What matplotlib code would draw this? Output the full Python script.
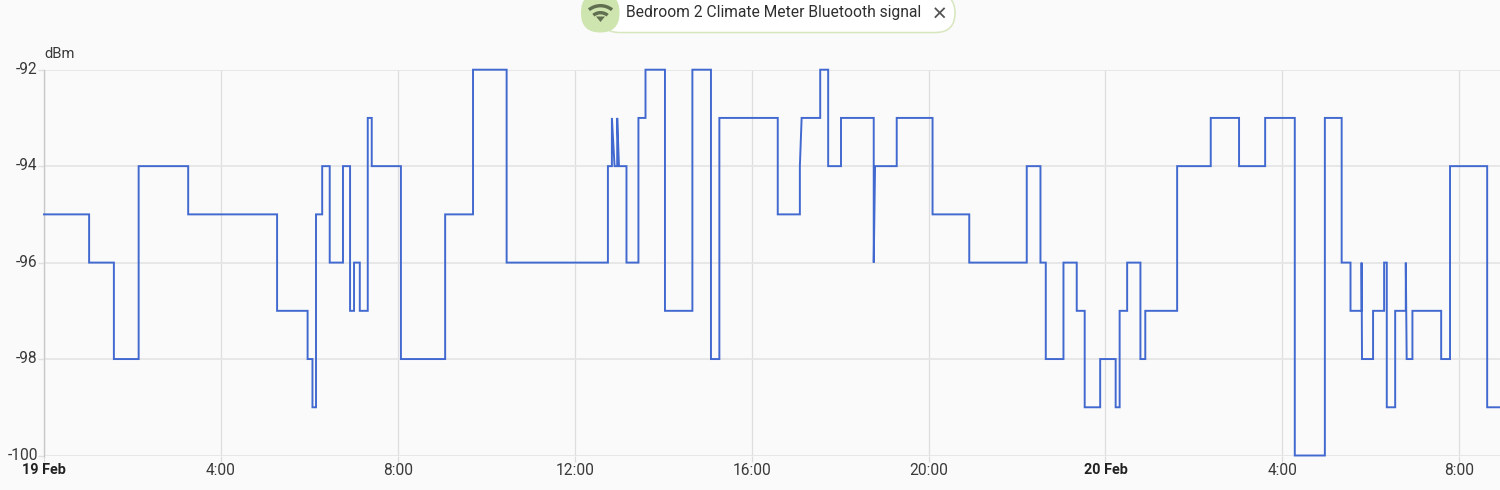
import matplotlib
matplotlib.use("Agg")
import matplotlib.pyplot as plt
from matplotlib.patches import FancyBboxPatch, Wedge, Polygon
from matplotlib.transforms import ScaledTranslation

plt.rcParams['font.family'] = ['Roboto', 'DejaVu Sans']

series_name = "Bedroom 2 Climate Meter Bluetooth signal"
unit = "dBm"
# hours since 19 Feb 00:00 at which the signal changes, and the new value
hours = [0, 1.02, 1.58, 2.14, 3.26, 5.27, 5.96, 6.07, 6.15, 6.29, 6.46, 6.76, 6.92, 7.01,
         7.14, 7.32, 7.41, 8.07, 9.07, 9.70, 10.46, 12.75, 12.84, 12.90, 12.96, 13.00,
         13.17, 13.44, 13.60, 14.04, 14.66, 15.08, 15.27, 16.59, 17.09, 17.13, 17.55,
         17.73, 18.02, 18.76, 18.79, 19.28, 20.09, 20.92, 22.22, 22.53, 22.65, 23.05,
         23.35, 23.53, 23.88, 24.23, 24.32, 24.49, 24.79, 24.90, 25.62, 26.38, 27.02,
         27.61, 28.28, 28.96, 29.34, 29.54, 29.79, 29.80, 30.05, 30.30, 30.36, 30.55,
         30.79, 30.81, 30.94, 31.59, 31.79, 32.63, 32.92]
signal = [-95, -96, -98, -94, -95, -97, -98, -99, -95, -94, -96, -94, -97, -96,
          -97, -93, -94, -98, -95, -92, -96, -94, -93, -94, -93, -94,
          -96, -93, -92, -97, -92, -98, -93, -95, -94, -93, -92,
          -94, -93, -96, -94, -93, -95, -96, -94, -96, -98, -96,
          -97, -99, -98, -99, -97, -96, -98, -97, -94, -93, -94,
          -93, -100, -93, -96, -97, -96, -98, -97, -96, -99, -97,
          -96, -98, -97, -98, -94, -99, -99]
# changes that the trace reaches on a slant instead of a square corner
slanted_changes = [12.90, 13.00, 17.13, 18.79, 29.80, 30.81]
y_ticks = [-92, -94, -96, -98, -100]
x_tick_hours = [0, 4, 8, 12, 16, 20, 24, 28, 32]
x_tick_labels = ["19 Feb", "4:00", "8:00", "12:00", "16:00", "20:00", "20 Feb", "4:00", "8:00"]
bold_labels = ["19 Feb", "20 Feb"]

W, H = 1500, 490
bg = "#fafafa"
fig = plt.figure(figsize=(W / 100, H / 100), dpi=100, facecolor=bg)
ax = fig.add_axes([44 / W, 1 - 455.5 / H, (W - 44) / W, (455.5 - 69.7) / H], facecolor=bg)
ax.set_xlim(0, 32.92)
ax.set_ylim(-100, -92)

for s in ax.spines.values():
    s.set_visible(False)
ax.set_yticks(y_ticks)
ax.set_yticklabels([str(v) for v in y_ticks])
ax.set_xticks(x_tick_hours)
ax.set_xticklabels(x_tick_labels)
ax.grid(axis='y', color="#e6e6e6", lw=1.3)
ax.grid(axis='x', color="#dedede", lw=0.9)
ax.set_axisbelow(True)
ax.axvline(0, color="#c8c8c8", lw=1.0, zorder=1, clip_on=False)
ax.tick_params(axis='y', length=4, width=1, color="#e0e0e0", labelsize=11.2,
               labelcolor="#3a3a3a", pad=0.5)
ax.tick_params(axis='x', length=4, width=0.9, color="#dcdcdc", labelsize=11.2,
               labelcolor="#3a3a3a", pad=1.6)
raise_labels = ScaledTranslation(0, 1.3 / 72, fig.dpi_scale_trans)
for lab in ax.get_yticklabels():
    lab.set_transform(lab.get_transform() + raise_labels)
for lab in ax.get_xticklabels():
    if lab.get_text() in bold_labels:
        lab.set_fontweight('bold')
        lab.set_fontsize(10.4)
        lab.set_color("#212121")

xs, ys = [hours[0]], [signal[0]]
for t, v in zip(hours[1:], signal[1:]):
    if t not in slanted_changes:
        xs.append(t)
        ys.append(ys[-1])
    xs.append(t)
    ys.append(v)
ax.plot(xs, ys, color="#4269d0", lw=1.4, solid_joinstyle='miter', clip_on=False, zorder=3)

ov = fig.add_axes([0, 0, 1, 1], facecolor='none')
ov.set_xlim(0, W)
ov.set_ylim(H, 0)
ov.axis('off')
ov.text(44, 54, unit, fontsize=10.6, color="#3a3a3a", ha='left', va='center')

# legend chip
ov.add_patch(FancyBboxPatch((600, -6.5), 355, 39, boxstyle="round,pad=0,rounding_size=19.5",
                            mutation_aspect=1, fc="#ffffff", ec="#d6e6bd", lw=1.1, zorder=4,
                            clip_on=True))
ov.add_patch(FancyBboxPatch((581, -7), 38.5, 39.5, boxstyle="round,pad=0,rounding_size=19.2",
                            fc="#cfe5b0", ec="none", zorder=5))
icon = "#5f6f50"
for r, w in [(20, 3.4), (13, 3.4)]:
    ov.add_patch(Wedge((600.5, 24), r, 231, 309, width=w, fc=icon, ec='none', zorder=6))
ov.add_patch(Polygon([(596, 16.5), (605, 16.5), (600.5, 22)], closed=True, fc=icon, ec='none', zorder=6))
ov.text(625.5, 12.5, series_name, fontsize=11.25, color="#2f2f2f", ha='left', va='center', zorder=6)
ov.plot([935.5, 944], [8.5, 17], color="#555555", lw=1.3, zorder=6)
ov.plot([935.5, 944], [17, 8.5], color="#555555", lw=1.3, zorder=6)

fig.savefig("out.png", dpi=100, facecolor=bg)
